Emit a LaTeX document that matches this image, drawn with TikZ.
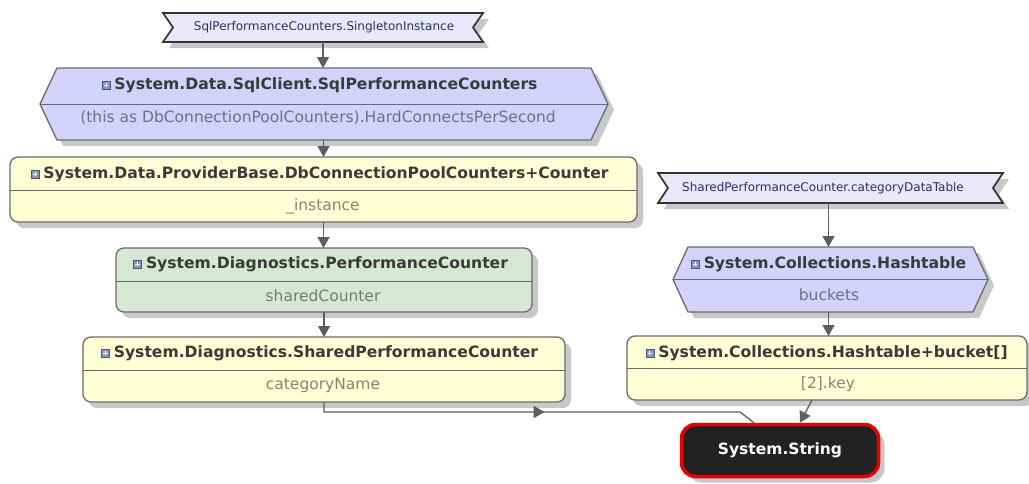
\documentclass[tikz,border=0pt]{standalone}
\usepackage{fontspec}
\setmainfont{DejaVu Sans}
\usetikzlibrary{arrows.meta,shadows,decorations.markings,calc}

\definecolor{lav}{HTML}{D2D2FA}
\definecolor{lavlight}{HTML}{E8E8FA}
\definecolor{ylw}{HTML}{FFFFD5}
\definecolor{grn}{HTML}{D5E8D4}
\definecolor{edge}{HTML}{6A6A6A}
\definecolor{shd}{HTML}{C8C8C8}
\definecolor{ttl}{HTML}{3A3A3A}
\definecolor{subl}{HTML}{6E6E8E}
\definecolor{suby}{HTML}{858575}
\definecolor{subg}{HTML}{6F806F}
\definecolor{bantxt}{HTML}{2E2E66}
\definecolor{conn}{HTML}{5E5E5E}
\definecolor{strred}{HTML}{E80000}
\definecolor{strfill}{HTML}{222222}
\definecolor{iconfill}{HTML}{8A98B8}
\definecolor{icondraw}{HTML}{4C566E}

\begin{document}
\begin{tikzpicture}[x=1pt,y=-1pt,
  shad/.style={drop shadow={shadow xshift=6pt, shadow yshift=-6pt, fill=shd, opacity=1}},
  frame/.style={inner sep=0pt, outer sep=0pt},
  boxshape/.style={draw=edge, line width=1.3pt, rounded corners=8pt, shad},
  hexshape/.style={draw=edge, line width=1.3pt, fill=lav, shad},
  banshape/.style={draw=black!80, line width=1.7pt, fill=lavlight, shad},
  sepline/.style={draw=edge, line width=1pt},
  ttltxt/.style={font=\fontsize{15.6}{17}\selectfont\bfseries, text=ttl, inner sep=0pt},
  subtxt/.style={font=\fontsize{15.5}{17}\selectfont, inner sep=0pt},
  bantext/.style={font=\fontsize{12}{14}\selectfont, text=bantxt, inner sep=0pt},
  expicon/.style={draw=icondraw, fill=iconfill, line width=0.6pt, minimum size=8pt, inner sep=0pt,
    path picture={\draw[white, line width=0.8pt] ([xshift=1.8pt]path picture bounding box.west) -- ([xshift=-1.8pt]path picture bounding box.east)
      ([yshift=-1.8pt]path picture bounding box.north) -- ([yshift=1.8pt]path picture bounding box.south);}},
  conn/.style={draw=conn, line width=1.3pt},
  arr/.style={conn, -{Triangle[length=11pt, width=12pt]}},
  midarr/.style={conn, postaction={decorate}, decoration={markings, mark=at position 0.52 with {\arrow{Triangle[length=11pt, width=12pt]}}}},
  strnode/.style={draw=strred, line width=3.5pt, fill=strfill, rounded corners=14pt, text=white,
    font=\fontsize{15.5}{17}\selectfont\bfseries, shad}
]
\useasboundingbox[fill=white] (0,0) rectangle (1029,483);

% ---------- banner 1
\node[frame, minimum width=320pt, minimum height=29pt] (n1) at (323,27.5) {};
\path[banshape] (n1.north west) -- (n1.north east) -- ($(n1.east)+(-10,0)$) -- (n1.south east)
  -- (n1.south west) -- ($(n1.west)+(10,0)$) -- cycle;
\node[bantext] (n1t) at (324,27.5) {SqlPerformanceCounters.SingletonInstance};

% ---------- hexagon 1
\node[frame, minimum width=568pt, minimum height=72pt] (h1) at (324,104) {};
\path[hexshape] ($(h1.north west)+(17,0)$) -- ($(h1.north east)+(-17,0)$) -- (h1.east)
  -- ($(h1.south east)+(-17,0)$) -- ($(h1.south west)+(17,0)$) -- (h1.west) -- cycle;
\draw[sepline] (h1.west) -- (h1.east);
\node[ttltxt] (h1t) at (326,85) {System.Data.SqlClient.SqlPerformanceCounters};
\node[expicon, anchor=east] (h1i) at ($(h1t.west)+(-4,0)$) {};
\node[subtxt, text=subl] (h1s) at (318,118) {(this as DbConnectionPoolCounters).HardConnectsPerSecond};

% ---------- box 2
\node[frame, boxshape, fill=ylw, minimum width=627pt, minimum height=65pt] (b2) at (323.5,189.5) {};
\draw[sepline] (b2.west |- 0,190) -- (b2.east |- 0,190);
\node[ttltxt] (b2t) at (326,174) {System.Data.ProviderBase.DbConnectionPoolCounters+Counter};
\node[expicon, anchor=east] (b2i) at ($(b2t.west)+(-4,0)$) {};
\node[subtxt, text=suby] (b2s) at (323,206) {\_instance};

% ---------- box 3
\node[frame, boxshape, fill=grn, minimum width=416pt, minimum height=64pt] (b3) at (324,280) {};
\draw[sepline] (b3.west |- 0,281) -- (b3.east |- 0,281);
\node[ttltxt] (b3t) at (327,264) {System.Diagnostics.PerformanceCounter};
\node[expicon, anchor=east] (b3i) at ($(b3t.west)+(-4,0)$) {};
\node[subtxt, text=subg] (b3s) at (323,296) {sharedCounter};

% ---------- box 4
\node[frame, boxshape, fill=ylw, minimum width=482pt, minimum height=65pt] (b4) at (324,369.5) {};
\draw[sepline] (b4.west |- 0,370) -- (b4.east |- 0,370);
\node[ttltxt] (b4t) at (326,353) {System.Diagnostics.SharedPerformanceCounter};
\node[expicon, anchor=east] (b4i) at ($(b4t.west)+(-4,0)$) {};
\node[subtxt, text=suby] (b4s) at (323,385) {categoryName};

% ---------- banner 2
\node[frame, minimum width=345pt, minimum height=30pt] (n2) at (830.5,188) {};
\path[banshape] (n2.north west) -- (n2.north east) -- ($(n2.east)+(-10,0)$) -- (n2.south east)
  -- (n2.south west) -- ($(n2.west)+(10,0)$) -- cycle;
\node[bantext] (n2t) at (823,188) {SharedPerformanceCounter.categoryDataTable};

% ---------- hexagon 2
\node[frame, minimum width=315pt, minimum height=65pt] (h2) at (830.5,279.5) {};
\path[hexshape] ($(h2.north west)+(15,0)$) -- ($(h2.north east)+(-15,0)$) -- (h2.east)
  -- ($(h2.south east)+(-15,0)$) -- ($(h2.south west)+(15,0)$) -- (h2.west) -- cycle;
\draw[sepline] (h2.west) -- (h2.east);
\node[ttltxt] (h2t) at (835,264) {System.Collections.Hashtable};
\node[expicon, anchor=east] (h2i) at ($(h2t.west)+(-4,0)$) {};
\node[subtxt, text=subl] (h2s) at (829,295) {buckets};

% ---------- box 5
\node[frame, boxshape, fill=ylw, minimum width=400pt, minimum height=64pt] (b5) at (827,368) {};
\draw[sepline] (b5.west |- 0,368) -- (b5.east |- 0,368);
\node[ttltxt] (b5t) at (833,353) {System.Collections.Hashtable+bucket[]};
\node[expicon, anchor=east] (b5i) at ($(b5t.west)+(-4,0)$) {};
\node[subtxt, text=suby] (b5s) at (828,384) {[2].key};

% ---------- System.String
\node[strnode, minimum width=197pt, minimum height=52pt, inner sep=0pt] (s) at (780,450.5) {System.String};

% ---------- connectors
\draw[arr] (n1.south) -- (n1.south |- h1.north);
\draw[arr] (h1.south -| b2.north) -- (b2.north);
\draw[arr] (b2.south) -- (b2.south |- b3.north);
\draw[arr] (b3.south) -- (b3.south |- b4.north);
\draw[arr] ($(n2.south)+(-2,0)$) -- ($(n2.south |- h2.north)+(-2,0)$);
\draw[arr] ($(h2.south)+(-2,0)$) -- ($(h2.south |- b5.north)+(-2,0)$);
\coordinate (c1) at (740,412);
\draw[midarr] (b4.south) |- (c1) -- ($(s.north)+(-26,0)$);
\draw[arr] ($(b5.south)+(-15,0)$) -- ($(s.north)+(20,0)$);
\end{tikzpicture}
\end{document}
